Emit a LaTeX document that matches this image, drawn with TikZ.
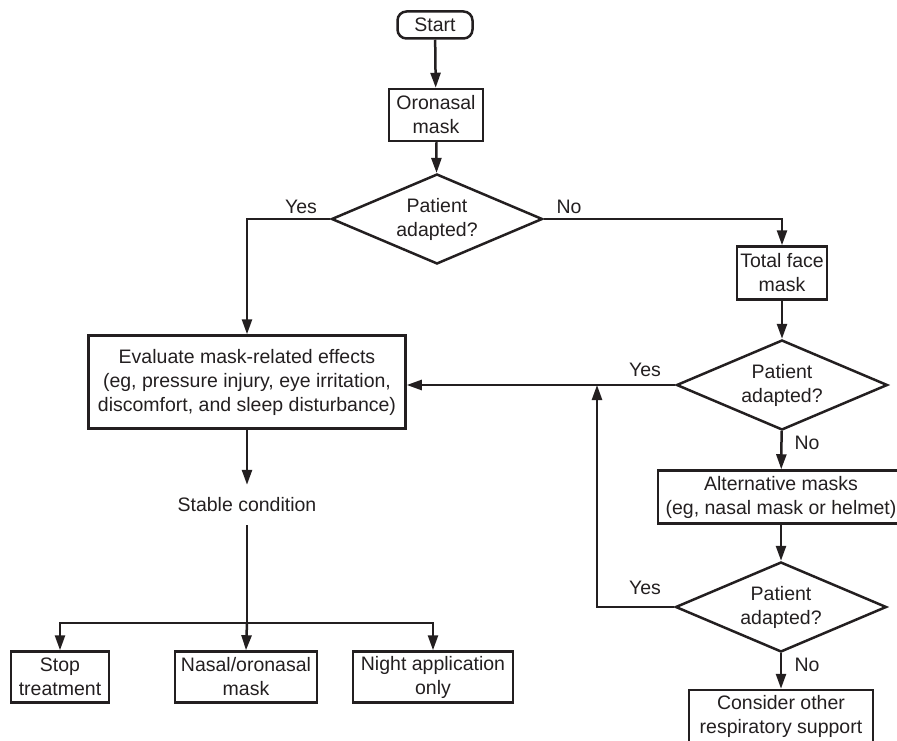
\documentclass[tikz,border=0pt]{standalone}
\usepackage{fontspec}
\setmainfont{Liberation Sans}
\usetikzlibrary{shapes.geometric,arrows.meta,positioning}
\definecolor{ink}{HTML}{231F20}
\tikzset{
  box/.style={draw=ink, line width=2.5pt, align=center, inner sep=0pt},
  decision/.style={draw=ink, diamond, aspect=2.35, line width=2.5pt, align=center,
    inner sep=0pt, minimum width=211pt, minimum height=90pt},
  flow/.style={draw=ink, line width=2.5pt, -{Triangle[length=15pt,width=10pt]}},
  link/.style={draw=ink, line width=2.5pt},
  lbl/.style={inner sep=0pt}
}

\begin{document}
\begin{tikzpicture}[x=1pt, y=-1pt, every node/.style={font=\fontsize{19.5}{24}\selectfont, text=ink}]
  \useasboundingbox (0,0) rectangle (897,741);

  % Left column
  \node[box, rounded corners=9pt, minimum width=75pt, minimum height=27pt] (start) at (435,25) {Start};
  \node[box, minimum width=94pt, minimum height=52pt] (oro) at (436,115) {Oronasal\\mask};
  \node[decision] (d1) at (437,219) {Patient\\adapted?};
  \node[box, minimum width=317pt, minimum height=93pt] (eval) at (247,382)
    {Evaluate mask-related effects\\(eg, pressure injury, eye irritation,\\discomfort, and sleep disturbance)};
  \node[lbl, minimum height=40pt] (stable) at (247,505) {Stable condition};
  \coordinate (br) at (247,623);

  % Outcomes
  \node[box, minimum width=98pt, minimum height=51pt] (stop) at (60,677) {Stop\\treatment};
  \node[box, minimum width=142pt, minimum height=51pt] (nasal) at (246,677) {Nasal/oronasal\\mask};
  \node[box, minimum width=160pt, minimum height=51pt] (night) at (433,677) {Night application\\only};

  % Right column
  \node[box, minimum width=90pt, minimum height=53pt] (tfm) at (782,273) {Total face\\mask};
  \node[decision] (d2) at (782,385) {Patient\\adapted?};
  \node[box, minimum width=246pt, minimum height=53pt] (alt) at (781,497)
    {Alternative masks\\(eg, nasal mask or helmet)};
  \node[decision] (d3) at (781,607) {Patient\\adapted?};
  \node[box, minimum width=184pt, minimum height=52pt] (cons) at (781,716)
    {Consider other\\respiratory support};
  \coordinate (j) at (597,385);

  % Yes/No labels
  \node[lbl] (yes1) at (301,207) {Yes};
  \node[lbl] (no1) at (569,207) {No};
  \node[lbl] (yes2) at (645,370) {Yes};
  \node[lbl] (no2) at (807,443) {No};
  \node[lbl] (yes3) at (645,588) {Yes};
  \node[lbl] (no3) at (807,665) {No};

  % Connectors
  \draw[flow] (start) -- (oro);
  \draw[flow] (oro) -- (d1);
  \draw[flow] (d1.west) -| (eval.north);
  \draw[flow] (d1.east) -| (tfm.north);
  \draw[flow] (tfm) -- (d2);
  \draw[flow] (d2.west) -- (eval.east |- d2.west);
  \draw[flow] (d2) -- (alt);
  \draw[flow] (alt) -- (d3);
  \draw[flow] (d3.west) -| (j);
  \draw[flow] (d3) -- (cons);
  \draw[flow] (eval) -- (stable);
  \draw[link] (stable.south) -- (br);
  \draw[flow] (br) -| (stop.north);
  \draw[flow] (br) -- (nasal.north);
  \draw[flow] (br) -| (night.north);

\end{tikzpicture}
\end{document}
